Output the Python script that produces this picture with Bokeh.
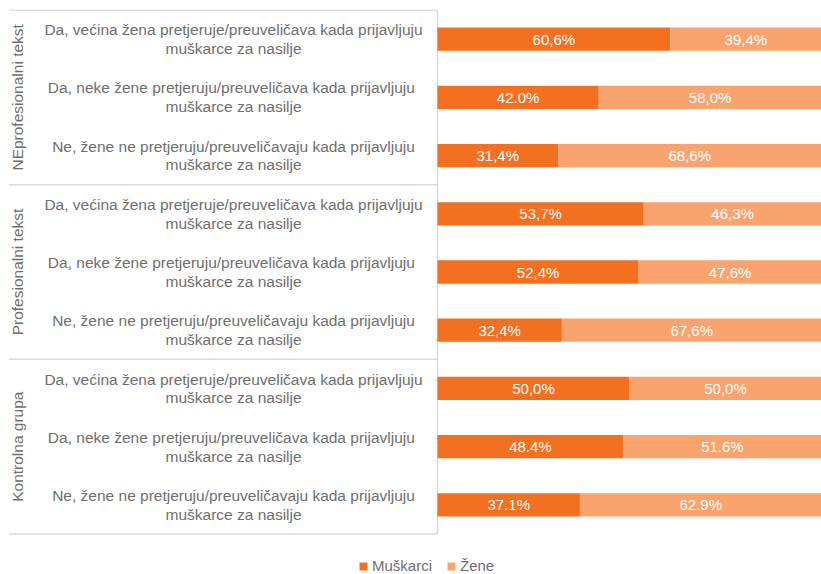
from bokeh.plotting import figure
from bokeh.models import ColumnDataSource, Range1d, Legend, LegendItem
from bokeh.core.properties import value
from bokeh.embed import file_html
from bokeh.resources import INLINE

groups = ["NEprofesionalni tekst", "Profesionalni tekst", "Kontrolna grupa"]
answers = [
    "Da, većina žena pretjeruje/preuveličava kada prijavljuju\nmuškarce za nasilje",
    "Da, neke žene pretjeruju/preuveličava  kada prijavljuju\nmuškarce za nasilje",
    "Ne, žene ne pretjeruju/preuveličavaju kada prijavljuju\nmuškarce za nasilje",
]
muskarci = [60.6, 42.0, 31.4, 53.7, 52.4, 32.4, 50.0, 48.4, 37.1]
zene = [39.4, 58.0, 68.6, 46.3, 47.6, 67.6, 50.0, 51.6, 62.9]
muskarci_labels = ["60,6%", "42.0%", "31,4%", "53,7%", "52,4%", "32,4%", "50,0%", "48.4%", "37.1%"]
zene_labels = ["39,4%", "58,0%", "68,6%", "46,3%", "47,6%", "67,6%", "50,0%", "51.6%", "62.9%"]
series_names = ["Muškarci", "Žene"]

C_M = "#F37021"
C_Z = "#F9A46F"
GREY = "#6e6e6e"
LINE = "#d9d9d9"
FONT_NAME = "Liberation Sans"
FONT = value(FONT_NAME)

n = len(muskarci)
idx = list(range(n))
cats = [answers[i % 3] for i in idx]

W, H = 821, 574
XMIN = -111.7
# frame spans from y=9px to the bottom of the canvas; rows occupy 58.22 px each
Y_TOP = -0.5086
Y_BOTTOM = 9.1956
p = figure(width=W, height=H, output_backend="svg", toolbar_location=None,
           x_range=Range1d(XMIN, 100), y_range=Range1d(Y_BOTTOM, Y_TOP),
           x_axis_location=None, y_axis_location=None,
           min_border_left=8, min_border_right=0, min_border_top=9, min_border_bottom=0)
p.outline_line_color = None
p.grid.visible = False

# box lines
bounds = [-0.5 + 3 * g for g in range(len(groups) + 1)]
p.segment(x0=[XMIN] * len(bounds), x1=[0] * len(bounds), y0=bounds, y1=bounds,
          line_color=LINE, line_width=1.5)
p.segment(x0=[0], x1=[0], y0=[bounds[0]], y1=[bounds[-1]], line_color=LINE, line_width=1.5)

src = ColumnDataSource(dict(
    y=idx, m=muskarci, z=zene,
    mend=muskarci, zend=[a + b for a, b in zip(muskarci, zene)],
    mx=[v / 2 for v in muskarci], zx=[a + b / 2 for a, b in zip(muskarci, zene)],
    ml=muskarci_labels, zl=zene_labels, cat=cats,
    labx=[-53.1] * n,
))
r1 = p.hbar(y="y", left=0, right="mend", height=0.4, source=src, fill_color=C_M, line_color=None)
r2 = p.hbar(y="y", left="mend", right="zend", height=0.4, source=src, fill_color=C_Z, line_color=None)

p.text(x="mx", y="y", text="ml", source=src, text_color="white", text_font=FONT,
       text_font_size="15px", text_align="center", text_baseline="middle")
p.text(x="zx", y="y", text="zl", source=src, text_color="white", text_font=FONT,
       text_font_size="15px", text_align="center", text_baseline="middle")

p.text(x="labx", y="y", text="cat", source=src, text_color=GREY, text_font=FONT,
       text_font_size="15.5px", text_align="center", text_baseline="middle", text_line_height=1.1)

gsrc = ColumnDataSource(dict(x=[-109.3] * len(groups), y=[3 * g + 1 for g in range(len(groups))], t=groups))
p.text(x="x", y="y", text="t", source=gsrc, angle=1.5708, text_color=GREY, text_font=FONT,
       text_font_size="15.5px", text_align="center", text_baseline="middle")

legend = Legend(items=[LegendItem(label=series_names[0], renderers=[r1]),
                       LegendItem(label=series_names[1], renderers=[r2])],
                orientation="horizontal", location=(350, 0),
                label_text_font=FONT_NAME, label_text_font_size="15px", label_text_color=GREY,
                glyph_width=10, glyph_height=10, label_standoff=4, spacing=14,
                padding=0, margin=0, border_line_color=None, background_fill_alpha=0)
p.add_layout(legend, "center")

open("out.html", "w").write(file_html(p, INLINE))
